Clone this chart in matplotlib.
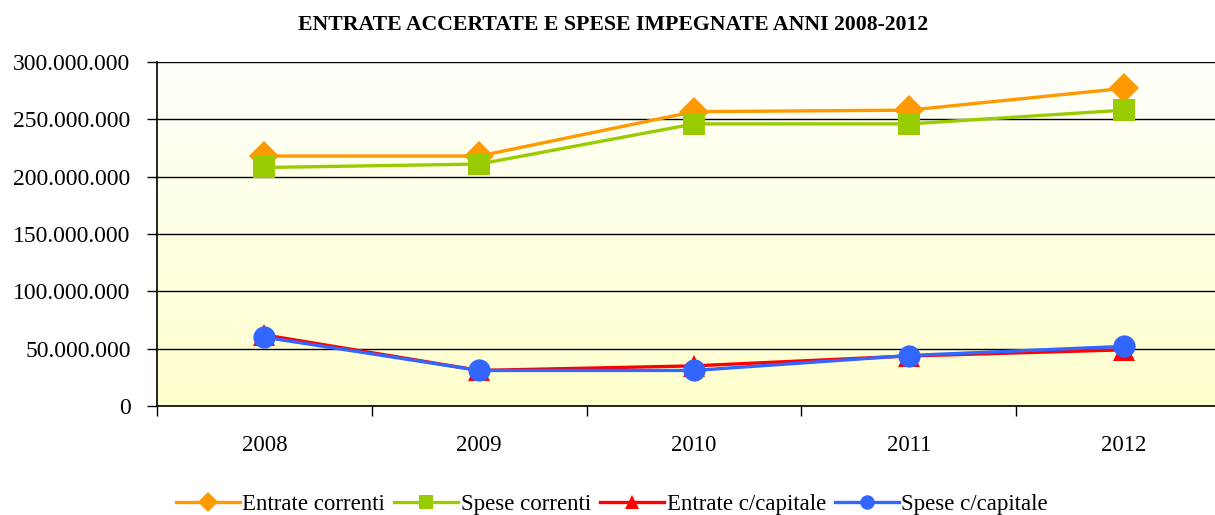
import numpy as np
import matplotlib.pyplot as plt
from matplotlib.ticker import FuncFormatter, FixedLocator

plt.rcParams['font.family'] = ['Liberation Serif', 'DejaVu Serif']

# Dati (euro)
anni = ['2008', '2009', '2010', '2011', '2012']
entrate_correnti = [218000000, 218000000, 256700000, 258000000, 277000000]
spese_correnti = [208000000, 211000000, 246000000, 246000000, 258000000]
entrate_capitale = [62000000, 31000000, 35000000, 43600000, 49000000]
spese_capitale = [60000000, 31000000, 31000000, 44000000, 52000000]

serie = [
    ('Entrate correnti', entrate_correnti, '#FF9900', 'D', 15.5),
    ('Spese correnti', spese_correnti, '#99CC00', 's', 15.5),
    ('Entrate c/capitale', entrate_capitale, '#FF0000', '^', 16),
    ('Spese c/capitale', spese_capitale, '#3366FF', 'o', 16),
]

fig = plt.figure(figsize=(12.15, 5.15), dpi=100)
ax = fig.add_axes([157 / 1215, 109 / 515, 1074 / 1215, 344 / 515])

x = np.arange(len(anni)) + 0.5
ax.set_xlim(0, len(anni))
ax.set_ylim(0, 300000000)

# sfondo sfumato
grad = np.linspace(0, 1, 256).reshape(-1, 1)
c_top = np.array([1.0, 1.0, 0.985])
c_bot = np.array([1.0, 1.0, 0.80])
img = c_bot + (c_top - c_bot) * grad
ax.imshow(img[:, None, :].repeat(2, axis=1), extent=[0, len(anni), 0, 300000000],
          aspect='auto', origin='lower', zorder=0)

ax.set_yticks(np.arange(0, 300000001, 50000000))
ax.yaxis.set_major_formatter(FuncFormatter(lambda v, p: f'{int(v):,}'.replace(',', '.')))
ax.grid(axis='y', color='black', linewidth=1.0, zorder=1)

for nome, valori, colore, marker, ms in serie:
    ax.plot(x, valori, color=colore, linewidth=2.4, marker=marker, markersize=ms,
            markeredgewidth=0, label=nome, zorder=3)

# tick categorie sui confini
ax.xaxis.set_major_locator(FixedLocator(np.arange(0, len(anni) + 1)))
ax.xaxis.set_major_formatter(FuncFormatter(lambda v, p: ''))
ax.xaxis.set_minor_locator(FixedLocator(x))
ax.set_xticklabels(anni, minor=True)
ax.tick_params(axis='x', which='major', direction='out', length=7, width=1, color='black')
ax.tick_params(axis='x', which='minor', length=0, labelsize=16.5, pad=21)
ax.tick_params(axis='y', direction='out', length=7, width=1, labelsize=17, pad=12)

for s in ['top', 'right']:
    ax.spines[s].set_visible(False)
for s in ['left', 'bottom']:
    ax.spines[s].set_linewidth(1.2)

fig.text(613 / 1215, 1 - 25 / 515, 'ENTRATE ACCERTATE E SPESE IMPEGNATE ANNI 2008-2012',
         ha='center', va='center', fontsize=15.7, fontweight='bold')

fig.legend(loc='center', bbox_to_anchor=(612 / 1215, 1 - 504 / 515), ncol=4,
           frameon=False, fontsize=16.5, handlelength=2.8, handletextpad=0.1,
           columnspacing=0.4, markerscale=0.65)

fig.savefig('out.png', dpi=100)
